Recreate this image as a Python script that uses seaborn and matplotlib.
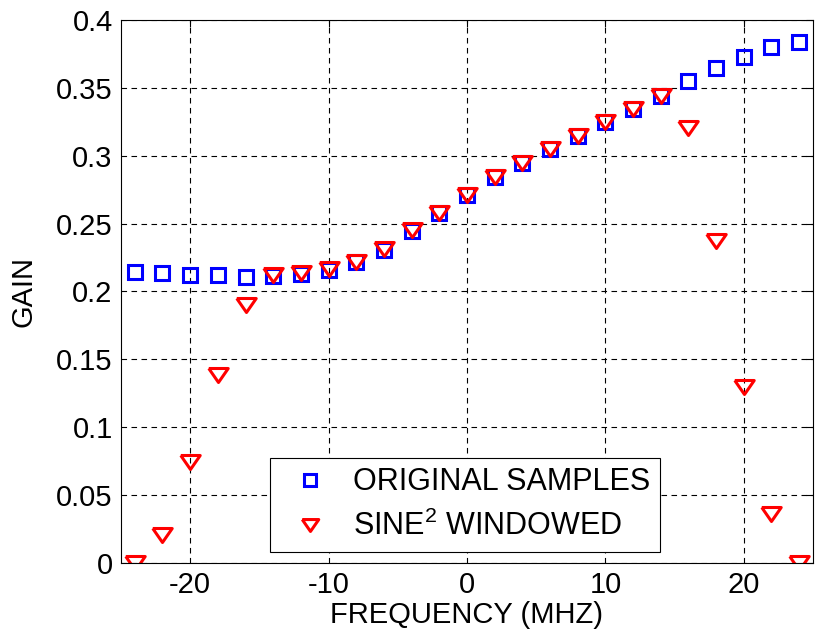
import numpy as np
import pandas as pd
import matplotlib
matplotlib.use("Agg")
import matplotlib.pyplot as plt
import seaborn as sns

freq = [-24, -22, -20, -18, -16, -14, -12, -10, -8, -6, -4, -2, 0,
        2, 4, 6, 8, 10, 12, 14, 16, 18, 20, 22, 24]
original = [0.2142, 0.2133, 0.2123, 0.2123, 0.2110, 0.2115, 0.2128, 0.2160,
            0.2220, 0.2307, 0.2446, 0.2578, 0.2714, 0.2841, 0.2946, 0.3053,
            0.3146, 0.3245, 0.3344, 0.3443, 0.3553, 0.3647, 0.3731, 0.3800,
            0.3836]
windowed = [0.0000, 0.0209, 0.0741, 0.1387, 0.1900, 0.2123, 0.2135, 0.2164,
            0.2220, 0.2310, 0.2450, 0.2580, 0.2714, 0.2841, 0.2946, 0.3053,
            0.3146, 0.3245, 0.3344, 0.3443, 0.3203, 0.2375, 0.1295, 0.0359,
            0.0000]
xticks = [-20, -10, 0, 10, 20]
yticks = [0, 0.05, 0.1, 0.15, 0.2, 0.25, 0.3, 0.35, 0.4]
ytick_labels = ["0", "0.05", "0.1", "0.15", "0.2", "0.25", "0.3", "0.35", "0.4"]
labels = ["ORIGINAL SAMPLES", "SINE$^2$ WINDOWED"]

sns.set_style("white")
plt.rcParams["font.family"] = ["Liberation Sans", "DejaVu Sans"]
plt.rcParams["mathtext.fontset"] = "custom"
plt.rcParams["mathtext.rm"] = "Liberation Sans"
plt.rcParams["mathtext.it"] = "Liberation Sans"
plt.rcParams["text.color"] = "black"
plt.rcParams["axes.labelcolor"] = "black"
plt.rcParams["xtick.color"] = "black"
plt.rcParams["ytick.color"] = "black"

FS = 21.0
LFS = 22.0

fig = plt.figure(figsize=(8.19, 6.41), dpi=100)
ax = fig.add_axes([0.1477, 0.1217, 0.845, 0.8471])

df = pd.DataFrame({"freq": freq, "original": original, "windowed": windowed})

tri = [(-1.0, 0.72), (1.0, 0.72), (0.0, -0.72), (-1.0, 0.72)]

sns.lineplot(data=df, x="freq", y="original", ax=ax, linestyle="",
             marker="s", markersize=9.5, markerfacecolor="none",
             markeredgecolor="#0000ff", markeredgewidth=2.2,
             label=labels[0])
sns.lineplot(data=df, x="freq", y="windowed", ax=ax, linestyle="",
             marker=tri, markersize=14, markerfacecolor="none",
             markeredgecolor="#ff0000", markeredgewidth=2.2,
             label=labels[1])

ax.set_xlim(-25, 25)
ax.set_ylim(0, 0.4)
ax.set_xticks(xticks)
ax.set_xticklabels([str(t) for t in xticks])
ax.set_yticks(yticks)
ax.set_yticklabels(ytick_labels)
ax.grid(True, color="black", linestyle=(0, (5, 4)), linewidth=0.8)
ax.tick_params(direction="in", length=5, width=0.8, labelsize=FS,
               top=True, right=True, colors="black", pad=6)
for s in ax.spines.values():
    s.set_color("black")
    s.set_linewidth(0.8)
ax.set_xlabel("FREQUENCY (MHZ)", fontsize=FS, labelpad=1, color="black")
ax.set_ylabel("GAIN", fontsize=FS, labelpad=13, color="black")

leg = ax.legend(loc="lower left", bbox_to_anchor=(0.215, 0.02), fontsize=LFS,
                frameon=True, fancybox=False, edgecolor="black",
                framealpha=1, borderpad=0.32, handlelength=2.0,
                handletextpad=0.4, labelspacing=0.45, borderaxespad=0)
leg.get_frame().set_linewidth(0.8)
for t in leg.get_texts():
    t.set_color("black")
for h in leg.legend_handles:
    h.set_markersize(h.get_markersize() * 0.85)

fig.savefig("out.png", dpi=100)
